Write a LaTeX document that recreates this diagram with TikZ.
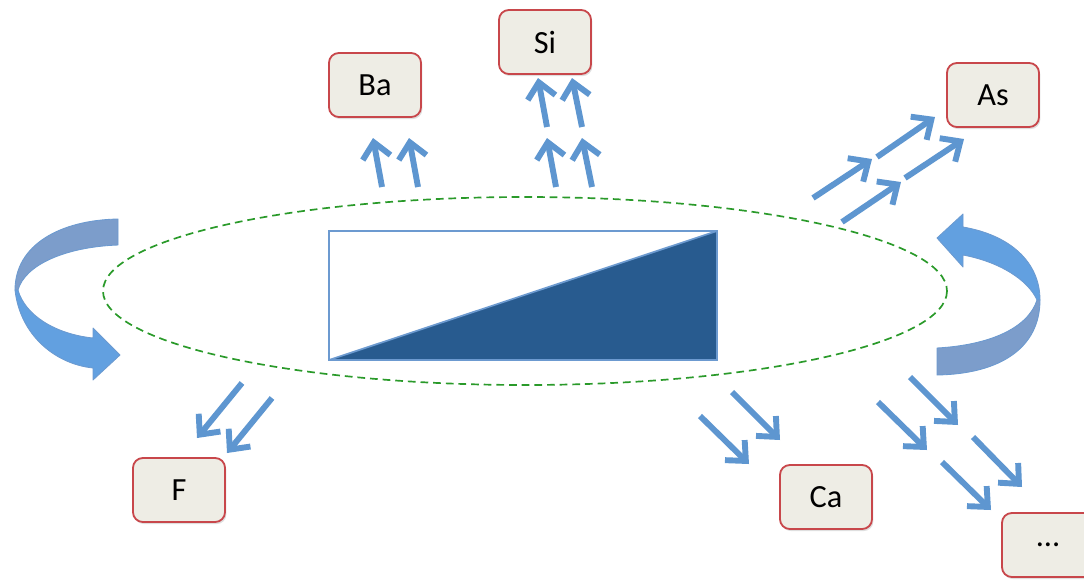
\documentclass[tikz,border=0pt]{standalone}
\usepackage{fontspec}
\setmainfont{Carlito}
\usepackage{tikz}
\usetikzlibrary{arrows.meta}
\usetikzlibrary{shadows}

\definecolor{boxfill}{HTML}{EEEDE5}
\definecolor{boxline}{HTML}{C8474B}
\definecolor{flowblue}{HTML}{5E96D0}
\definecolor{darkblue}{HTML}{285B8F}
\definecolor{rimblue}{HTML}{6C9AD0}
\definecolor{backblue}{HTML}{7C9DCB}
\definecolor{frontblue}{HTML}{62A0E0}
\definecolor{ringgreen}{HTML}{2A9A2A}

\tikzset{
	element/.style={draw=boxline, line width=1.3pt, fill=boxfill, rounded corners=7pt,
		minimum width=2.3cm, minimum height=1.6cm, inner sep=0pt,
		font=\fontsize{23}{27}\selectfont,
		drop shadow={opacity=0.25, shadow xshift=1pt, shadow yshift=-1.5pt}},
	flow/.style={draw=flowblue, line width=4.2pt,
		-{Straight Barb[length=11pt, width=20pt, line width=4.2pt]}},
	ring/.style={draw=ringgreen, line width=1.2pt, dash pattern=on 5.5pt off 3.5pt},
	ribbon/.style={draw=rimblue, line width=0.6pt, line join=round}
}

\begin{document}
\begin{tikzpicture}[x=0.025cm, y=-0.025cm]
		\useasboundingbox (0,0) rectangle (1084,581);
		\clip (0,0) rectangle (1084,581);
		
		% dashed ring and the cell
		\draw[ring] (525,291) ellipse (422 and 94);
		\fill[white] (329,231) rectangle (717,360);
		\fill[darkblue] (329,360) -- (717,231) -- (717,360) -- cycle;
		\draw[rimblue, line width=1.2pt] (329,231) rectangle (717,360);
		\draw[rimblue, line width=1.2pt] (329,360) -- (717,231);
		
		% left turning arrow
		\fill[ribbon, fill=backblue] (118,219) -- (118,245) .. controls (65,247) and (25,265) .. (18,290)
			-- (15,290) .. controls (15,245) and (60,220) .. (118,219) -- cycle;
		\fill[ribbon, fill=frontblue] (15,290) .. controls (20,335) and (55,364) .. (93,368)
			-- (93,380) -- (120,355) -- (93,328) -- (93,338) .. controls (55,334) and (25,315) .. (18,290) -- cycle;
		
		% right turning arrow
		\fill[ribbon, fill=frontblue] (963,227) .. controls (1010,235) and (1040,262) .. (1040,300)
			-- (1037,300) .. controls (1028,280) and (1000,262) .. (963,255)
			-- (963,267) -- (937,238) -- (963,214) -- cycle;
		\fill[ribbon, fill=backblue] (1040,300) .. controls (1040,348) and (1000,374) .. (937,375)
			-- (937,348) .. controls (990,345) and (1028,328) .. (1037,300) -- cycle;
		
		% elements
		\node[element] (ba) at (375,85) {Ba};
		\node[element] (si) at (545,42) {Si};
		\node[element] (as) at (993,95) {As};
		\node[element] (f) at (179,490) {F};
		\node[element] (ca) at (826,497) {Ca};
		\node[element] (dots) at (1048,545) {...};
		
		% small flow arrows
		\foreach \n/\tx/\ty/\hx/\hy in {ba1/382/187/373/138, ba2/418/187/409/138,
			si1/556/187/547/138, si2/592/187/582/138, si3/547/127/538/78, si4/582/127/572/78,
			as1/813/198/872/159, as2/877/157/935/117, as3/842/222/901/182, as4/905/178/964/139,
			f1/242/383/197/438, f2/272/398/227/453,
			ca1/700/416/749/464, ca2/732/392/780/440,
			dt1/878/402/927/450, dt2/910/377/958/425, dt3/942/462/991/510, dt4/973/437/1022/487} {
			\coordinate (\n t) at (\tx,\ty);
			\coordinate (\n h) at (\hx,\hy);
			\draw[flow] (\n t) -- (\n h);
		}
		
		\end{tikzpicture}
\end{document}
